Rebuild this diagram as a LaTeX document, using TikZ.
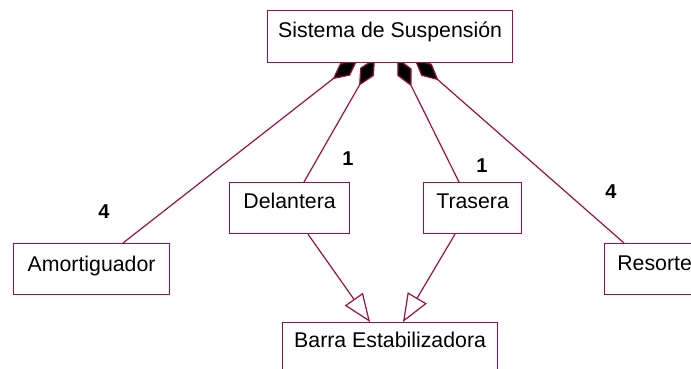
\documentclass[tikz,border=0pt]{standalone}
\usepackage{fontspec}
\setmainfont{Liberation Sans}
\usetikzlibrary{arrows.meta}
\definecolor{umlred}{RGB}{160,16,64}
\pgfdeclarelayer{bg}
\pgfsetlayers{bg,main}

\begin{document}
\begin{tikzpicture}[
    x=1pt, y=-1pt,
    box/.style={draw=umlred, line width=1.2pt, fill=white, inner sep=0pt, anchor=north west, font=\fontsize{21.3}{25}\selectfont},
    mult/.style={font=\fontsize{20}{24}\selectfont\bfseries},
    comp/.style={draw=umlred, line width=1.2pt, shorten >=-6pt, -{Diamond[length=32pt, width=16pt, fill=black]}},
    gen/.style={draw=umlred, line width=1.2pt, -{Triangle[open, length=28pt, width=22pt]}}
]
    \useasboundingbox (0,0) rectangle (691,369);

    \node[box, minimum width=245pt, text height=27pt, text depth=25pt] (sistema) at (267,10) {Sistema de Suspensión};
    \node[box, minimum width=120pt, text height=26pt, text depth=25pt] (delantera) at (229,182) {Delantera};
    \node[box, minimum width=98pt, text height=26pt, text depth=25pt] (trasera) at (423,182) {Trasera};
    \node[box, minimum width=156pt, text height=28pt, text depth=23pt] (amort) at (13,243) {Amortiguador};
    \node[box, minimum width=100pt, text height=27pt, text depth=24pt] (resorte) at (604,243) {Resorte};
    \node[box, minimum width=215pt, text height=25pt, text depth=26pt] (barra) at (282,322) {Barra Estabilizadora};

    \node[mult] (m1) at (348,159) {1};
    \node[mult] (m2) at (482,166) {1};
    \node[mult] (m3) at (104,212) {4};
    \node[mult] (m4) at (611,192) {4};

    \begin{pgfonlayer}{bg}
    \draw[comp] ([xshift=110pt]amort.north west) -- ([xshift=86pt]sistema.south west);
    \draw[comp] ([xshift=75pt]delantera.north west) -- ([xshift=105pt]sistema.south west);
    \draw[comp] ([xshift=36pt]trasera.north west) -- ([xshift=133pt]sistema.south west);
    \draw[comp] ([xshift=20pt]resorte.north west) -- ([xshift=152pt]sistema.south west);
    \end{pgfonlayer}

    \draw[gen] ([xshift=79pt]delantera.south west) -- ([xshift=88pt]barra.north west);
    \draw[gen] ([xshift=32pt]trasera.south west) -- ([xshift=121pt]barra.north west);
\end{tikzpicture}
\end{document}
